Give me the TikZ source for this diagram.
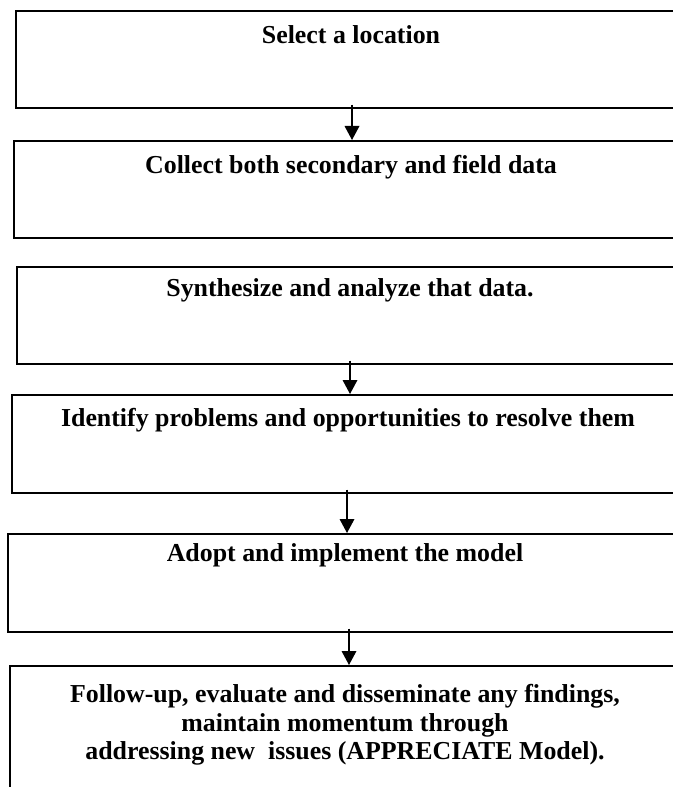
\documentclass[tikz,border=0pt]{standalone}
\usepackage{fontspec}
\setmainfont{Liberation Serif}
\usetikzlibrary{arrows.meta}
\begin{document}
\begin{tikzpicture}[x=0.75pt,y=-0.75pt,
  box/.style={draw=black,line width=1.3pt,rectangle,anchor=north west,inner sep=0pt},
  lbl/.style={font=\fontsize{19.4}{21.5}\selectfont\bfseries,inner sep=0pt,align=center},
  arr/.style={line width=1pt,-{Triangle[width=11pt,length=10.5pt]},shorten <=-3pt}]
\useasboundingbox (0,0) rectangle (673,787);
\clip (0,0) rectangle (673,787);
% boxes
\node[box,minimum width=504pt,minimum height=72.75pt] (b1) at (15,10) {};
\node[box,minimum width=507pt,minimum height=72.75pt] (b2) at (13,140) {};
\node[box,minimum width=501pt,minimum height=72.75pt] (b3) at (16,266) {};
\node[box,minimum width=505.5pt,minimum height=73.5pt] (b4) at (11,394) {};
\node[box,minimum width=507pt,minimum height=73.5pt] (b5) at (7,533) {};
\node[box,minimum width=504pt,minimum height=150pt] (b6) at (9,665) {};
% texts
\node[lbl] (t1) at (351,35) {Select a location};
\node[lbl] (t2) at (351,167) {Collect both secondary and field data};
\node[lbl] (t3) at (350,290) {Synthesize and analyze that data.};
\node[lbl] (t4) at (348,420) {Identify problems and opportunities to resolve them};
\node[lbl] (t5) at (345,555) {Adopt and implement the model};
\node[lbl,anchor=north] (t6) at (345,684) {Follow-up, evaluate and disseminate any findings,\\ maintain momentum through\\ addressing new~ issues (APPRECIATE Model).};
% arrows
\coordinate (c1) at (352,0);
\coordinate (c2) at (350,0);
\coordinate (c3) at (347,0);
\coordinate (c4) at (349,0);
\draw[arr] (b1.south -| c1) -- (b2.north -| c1);
\draw[arr] (b3.south -| c2) -- (b4.north -| c2);
\draw[arr] (b4.south -| c3) -- (b5.north -| c3);
\draw[arr] (b5.south -| c4) -- (b6.north -| c4);
\end{tikzpicture}
\end{document}
